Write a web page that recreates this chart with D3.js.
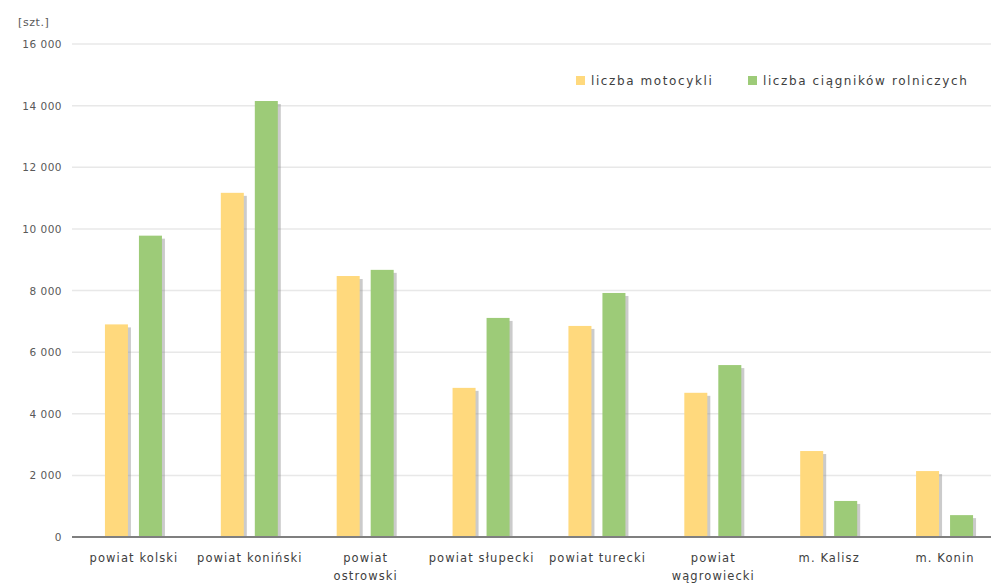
<!DOCTYPE html>
<html><head><meta charset="utf-8">
<script src="https://cdn.jsdelivr.net/npm/d3@7"></script>
<style>body{margin:0;background:#fff;} svg{display:block;font-family:"DejaVu Sans",sans-serif;}</style>
</head><body><svg id="c" width="991" height="584"></svg>
<script>
const categories = [["powiat kolski"],["powiat koniński"],["powiat","ostrowski"],["powiat słupecki"],["powiat turecki"],["powiat","wągrowiecki"],["m. Kalisz"],["m. Konin"]];
const seriesNames = ["liczba motocykli","liczba ciągników rolniczych"];
const motocykle = [6900, 11170, 8470, 4840, 6850, 4680, 2790, 2140];
const ciagniki = [9780, 14150, 8670, 7110, 7920, 5580, 1170, 710];
const yTicks = [0,2000,4000,6000,8000,10000,12000,14000,16000];
const colors = ["#FFD97D","#9DCB78"];

const svg = d3.select("#c");
const keys = categories.map((c,i)=>i);
const x = d3.scaleBand().domain(keys).range([76,1003]);
const y = d3.scaleLinear().domain([0,16000]).range([537,44]);
const fmt = v => d3.format(",")(v).replace(/,/g," ");

// gridlines
svg.append("g").selectAll("line").data(yTicks.filter(d=>d>0)).join("line")
  .attr("x1",72).attr("x2",991).attr("y1",d=>y(d)).attr("y2",d=>y(d))
  .attr("stroke","#e8e8e8").attr("stroke-width",1.5);

// y labels
svg.append("g").selectAll("text").data(yTicks).join("text")
  .attr("x",62).attr("y",d=>y(d)+4).attr("text-anchor","end")
  .attr("font-size",10.5).attr("letter-spacing",0.5).attr("fill","#595959").text(fmt);
svg.append("text").attr("x",18).attr("y",26).attr("font-size",11).attr("letter-spacing",0.6).attr("fill","#595959").text("[szt.]");

// bars
const series = [motocykle, ciagniki];
const bw = 23;
series.forEach((vals,si)=>{
  const g = svg.append("g");
  const bx = i => x(i)+x.bandwidth()/2 + (si===0 ? -29 : 5);
  g.selectAll("rect.s").data(vals).join("rect")
    .attr("x",(d,i)=>bx(i)+3).attr("y",d=>y(d)+3).attr("width",bw).attr("height",d=>y(0)-y(d)-3)
    .attr("fill","#8c8c8c").attr("opacity",0.45);
  g.selectAll("rect.b").data(vals).join("rect")
    .attr("x",(d,i)=>bx(i)).attr("y",d=>y(d)).attr("width",bw).attr("height",d=>y(0)-y(d))
    .attr("fill",colors[si]);
});

// axis line
svg.append("line").attr("x1",72).attr("x2",991).attr("y1",y(0)).attr("y2",y(0))
  .attr("stroke","#7f7f7f").attr("stroke-width",2);

// x labels
const xl = svg.append("g").selectAll("text").data(categories).join("text")
  .attr("text-anchor","middle").attr("font-size",11.5).attr("letter-spacing",1.1).attr("fill","#404040")
  .attr("transform",(d,i)=>`translate(${x(i)+x.bandwidth()/2},562)`);
xl.selectAll("tspan").data(d=>d).join("tspan").attr("x",0).attr("dy",(d,j)=>j?18:0).text(d=>d);

// legend
const leg = [{x:576,t:seriesNames[0],c:colors[0]},{x:748,t:seriesNames[1],c:colors[1]}];
leg.forEach(l=>{
  svg.append("rect").attr("x",l.x).attr("y",76).attr("width",9).attr("height",9).attr("fill",l.c);
  svg.append("text").attr("x",l.x+15).attr("y",85).attr("font-size",12).attr("letter-spacing",1.6).attr("fill","#404040").text(l.t);
});
</script></body></html>
